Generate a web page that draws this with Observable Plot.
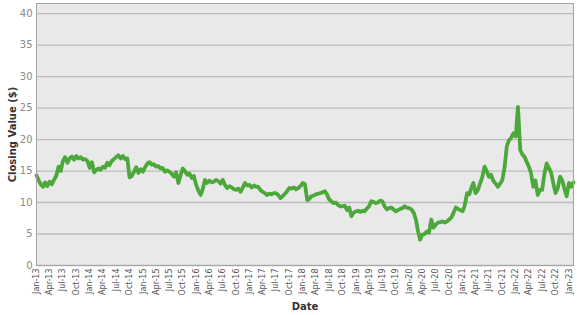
<!DOCTYPE html>
<html>
<head>
<meta charset="utf-8">
<script src="https://cdn.jsdelivr.net/npm/d3@7"></script>
<script src="https://cdn.jsdelivr.net/npm/@observablehq/plot@0.6"></script>
<style>
  html, body { margin: 0; padding: 0; background: #fff; }
</style>
</head>
<body>
<div id="chart"></div>
<script>
// Semi-monthly closing values (1st and 16th of each month)
const v2013 = [14.3, 13.5, 12.8, 12.5, 13.2, 12.6, 13.3, 12.9, 13.6, 14.2, 15.7, 15.0, 16.6, 17.2, 16.3, 17.0, 17.3, 16.8, 17.4, 17.0, 17.2, 16.8, 16.9, 16.6];
const v2014 = [15.5, 16.4, 14.8, 15.2, 15.4, 15.2, 15.7, 15.5, 16.3, 15.9, 16.6, 16.9, 17.2, 17.5, 17.0, 17.4, 16.9, 17.0, 14.0, 14.2, 14.9, 15.6, 14.7, 15.3];
const v2015 = [14.9, 15.6, 16.2, 16.4, 16.0, 16.1, 15.7, 15.8, 15.4, 15.5, 14.9, 15.1, 14.9, 14.6, 14.1, 14.8, 13.1, 14.3, 15.4, 15.0, 14.4, 14.6, 13.9, 14.2];
const v2016 = [12.8, 11.9, 11.2, 12.2, 13.6, 13.1, 13.5, 13.2, 13.3, 13.6, 13.4, 13.0, 13.6, 12.8, 12.3, 12.6, 12.4, 12.1, 12.0, 12.2, 11.7, 12.4, 13.1, 12.7];
const v2017 = [12.8, 12.4, 12.7, 12.5, 12.5, 12.0, 11.7, 11.5, 11.2, 11.4, 11.3, 11.5, 11.5, 11.2, 10.7, 11.0, 11.4, 11.8, 12.3, 12.2, 12.4, 12.1, 12.3, 12.6];
const v2018 = [13.1, 12.9, 10.4, 10.6, 11.0, 11.1, 11.3, 11.4, 11.5, 11.6, 11.8, 11.3, 10.5, 10.2, 9.9, 10.0, 9.6, 9.4, 9.4, 9.5, 8.8, 9.2, 7.8, 8.4];
const v2019 = [8.6, 8.7, 8.5, 8.7, 8.6, 9.0, 9.4, 10.2, 10.1, 9.9, 10.0, 10.3, 10.2, 9.4, 8.9, 9.1, 9.2, 8.9, 8.6, 8.8, 9.0, 9.1, 9.4, 9.2];
const v2020 = [9.1, 8.9, 8.4, 7.3, 5.5, 4.1, 4.9, 5.0, 5.4, 5.2, 7.3, 6.0, 6.5, 6.8, 6.9, 7.0, 6.8, 7.0, 7.3, 7.6, 8.4, 9.2, 9.0, 8.8];
const v2021 = [8.6, 9.5, 11.5, 11.3, 12.2, 13.1, 11.5, 12.0, 13.0, 14.0, 15.7, 15.0, 14.1, 14.4, 13.4, 13.0, 12.5, 13.0, 13.6, 15.5, 19.0, 19.9, 20.3, 21.0];
const v2022 = [20.5, 25.2, 18.3, 17.6, 17.3, 16.5, 15.7, 14.6, 12.5, 13.5, 11.2, 12.0, 12.0, 14.5, 16.2, 15.5, 14.7, 13.0, 11.5, 12.3, 14.1, 13.5, 12.2, 11.0];
const v2023 = [13.1, 12.5, 13.2];

const years = [2013, 2014, 2015, 2016, 2017, 2018, 2019, 2020, 2021, 2022, 2023];
const yearValues = [v2013, v2014, v2015, v2016, v2017, v2018, v2019, v2020, v2021, v2022, v2023];

const yTicks = [0, 5, 10, 15, 20, 25, 30, 35, 40];
const xTicks = d3.utcMonth.every(3).range(new Date(Date.UTC(2013, 0, 1)), new Date(Date.UTC(2023, 0, 2)));

const data = [];
years.forEach((yr, k) => {
  yearValues[k].forEach((v, i) => {
    data.push({date: new Date(Date.UTC(yr, Math.floor(i / 2), i % 2 ? 16 : 1)), value: v});
  });
});

const fmt = d3.utcFormat("%b-%y");

const chart = Plot.plot({
  width: 577,
  height: 315,
  marginLeft: 36,
  marginRight: 4,
  marginTop: 3,
  marginBottom: 50,
  style: {fontFamily: "'DejaVu Sans', Verdana, sans-serif", fontSize: "9px", background: "#fff"},
  x: {type: "utc", domain: [new Date(Date.UTC(2013, 0, 1)), new Date(Date.UTC(2023, 1, 1))]},
  y: {domain: [0, 41.6]},
  marks: [
    Plot.frame({fill: "#e9e9e9"}),
    Plot.gridY(yTicks, {stroke: "#bcbcbc", strokeOpacity: 1, strokeWidth: 1.3}),
    Plot.axisY(yTicks, {tickSize: 0, tickPadding: 4, fill: "#8a8a8a", fontSize: 10, label: null}),
    Plot.axisX(xTicks, {tickSize: 0, tickPadding: 3, tickRotate: -90, tickFormat: fmt, fill: "#555", fontSize: 8, label: null}),
    Plot.lineY(data, {x: "date", y: "value", stroke: "#4da83b", strokeWidth: 3.8, strokeLinejoin: "round"}),
    Plot.frame({stroke: "#a5a5a5", strokeWidth: 1}),
    Plot.text(["Closing Value ($)"], {frameAnchor: "left", dx: -24, rotate: -90, textAnchor: "middle", fontWeight: "bold", fontSize: 10, fill: "#333"}),
    Plot.text(["Date"], {frameAnchor: "bottom", dy: 44, fontWeight: "bold", fontSize: 10, fill: "#333"})
  ]
});

document.getElementById("chart").appendChild(chart);
</script>
</body>
</html>
